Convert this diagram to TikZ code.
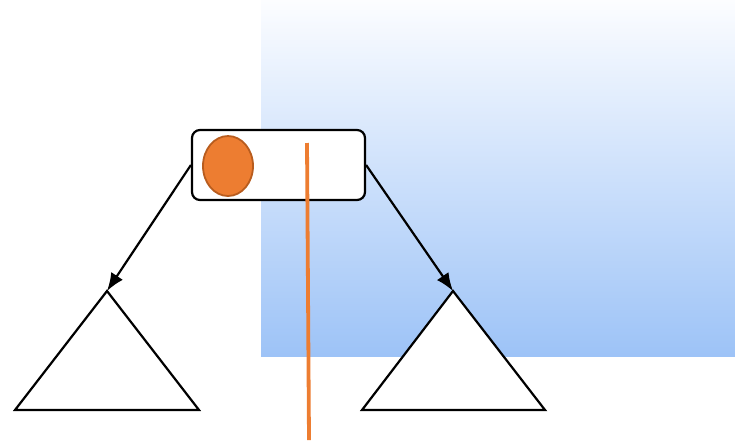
\documentclass[tikz,border=0pt]{standalone}
\usetikzlibrary{arrows.meta,shapes.geometric}
\definecolor{orng}{RGB}{237,125,49}
\definecolor{orngdark}{RGB}{184,92,30}
\definecolor{bluebot}{RGB}{157,195,247}
\definecolor{bluetop}{RGB}{252,253,255}
\tikzset{
  boxstyle/.style={draw=black,line width=2.2pt,rounded corners=8pt,fill=white,minimum width=173pt,minimum height=70pt,inner sep=0pt},
  dot/.style={ellipse,draw=orngdark,line width=1.8pt,fill=orng,minimum width=50pt,minimum height=60pt,inner sep=0pt},
  tri/.style={draw=black,line width=2.2pt,fill=white},
  conn/.style={draw=black,line width=2.2pt,-{Latex[length=18pt,width=14pt]}},
  split/.style={draw=orng,line width=3.8pt}
}
\begin{document}
\begin{tikzpicture}[x=1pt,y=-1pt]
\useasboundingbox (0,0) rectangle (735,440);
\shade[top color=bluetop,bottom color=bluebot] (261,0) rectangle (735,356);
\node[boxstyle] (box) at (278.5,165) {};
\node[dot] (ball) at (228,166) {};
\coordinate (lapex) at (107,291);
\coordinate (rapex) at (453,291);
\draw[tri] (lapex) -- (199,410) -- (15,410) -- cycle;
\draw[tri] (rapex) -- (545,410) -- (362,410) -- cycle;
\draw[conn] (box.west) -- (lapex);
\draw[conn] (box.east) -- (rapex);
\coordinate (ltop) at (307,143);
\coordinate (lbot) at (309,440);
\draw[split] (ltop) -- (lbot);
\end{tikzpicture}
\end{document}
